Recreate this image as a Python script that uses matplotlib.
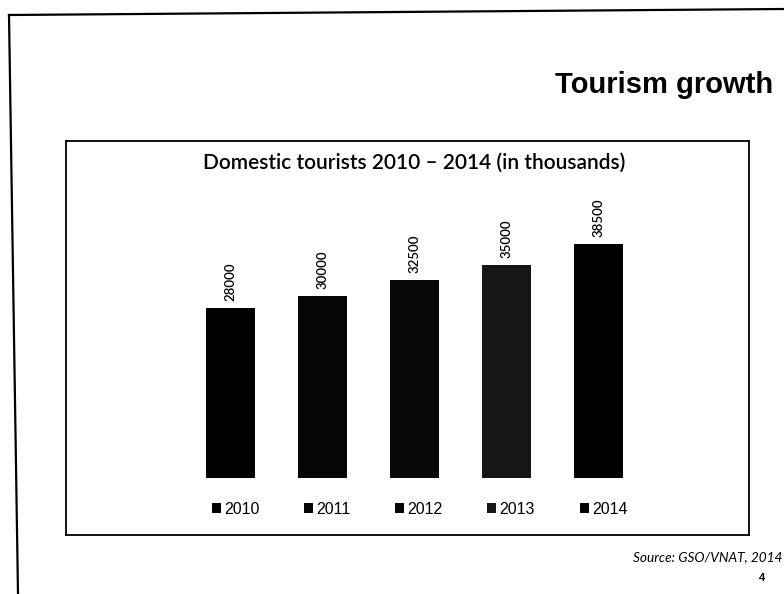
import matplotlib.pyplot as plt
from matplotlib.lines import Line2D

years = ["2010", "2011", "2012", "2013", "2014"]
tourists = [28000, 30000, 32500, 35000, 38500]
bar_colors = ["#000000", "#050505", "#080808", "#161616", "#000000"]

W, H = 784, 594
fig = plt.figure(figsize=(W / 100, H / 100), dpi=100)

def fx(px):
    return px / W

def fy(py):
    return 1 - py / H

# slide border (scanned page, slightly tilted)
fig.add_artist(Line2D([fx(9), fx(784)], [fy(15), fy(9)], color="black", lw=1.6))
fig.add_artist(Line2D([fx(9), fx(18)], [fy(15), fy(594)], color="black", lw=1.6))

fig.text(fx(773), fy(93), "Tourism growth", ha="right", va="baseline",
         fontsize=21, fontweight="bold", family="Liberation Sans")

# chart box
ax = fig.add_axes([fx(66), fy(535), fx(749) - fx(66), fy(141) - fy(535)])
for s in ax.spines.values():
    s.set_color("black")
    s.set_linewidth(1.3)
ax.set_xticks([])
ax.set_yticks([])

x = list(range(len(years)))
bars = ax.bar(x, tourists, width=0.53, color=bar_colors, label=years)
ax.set_xlim(-1.788, 5.636)
ax.set_ylim(-9375, 55425)

ax.bar_label(bars, labels=[str(v) for v in tourists], rotation=90, padding=5,
             fontsize=9.5, family="Lato", fontweight="semibold")

fig.text(fx(414), fy(163), "Domestic tourists 2010 \u2013 2014 (in thousands)",
         ha="center", va="center", fontsize=15, family="Lato",
         fontweight="semibold")

leg = ax.legend(handles=list(bars), labels=years, ncol=5, frameon=False,
                loc="center left", bbox_to_anchor=(fx(212), fy(509)),
                bbox_transform=fig.transFigure,
                prop={"family": "Liberation Sans", "size": 11.5},
                handlelength=0.56, handleheight=0.56, handletextpad=0.2,
                columnspacing=2.8, borderpad=0, borderaxespad=0)

fig.text(fx(782), fy(557), "Source: GSO/VNAT, 2014", ha="right", va="center",
         fontsize=9.8, style="italic", family="Lato")
fig.text(fx(762), fy(578), "4", ha="center", va="center", fontsize=8,
         fontweight="bold", family="Liberation Sans")

fig.savefig("out.png", dpi=100)
